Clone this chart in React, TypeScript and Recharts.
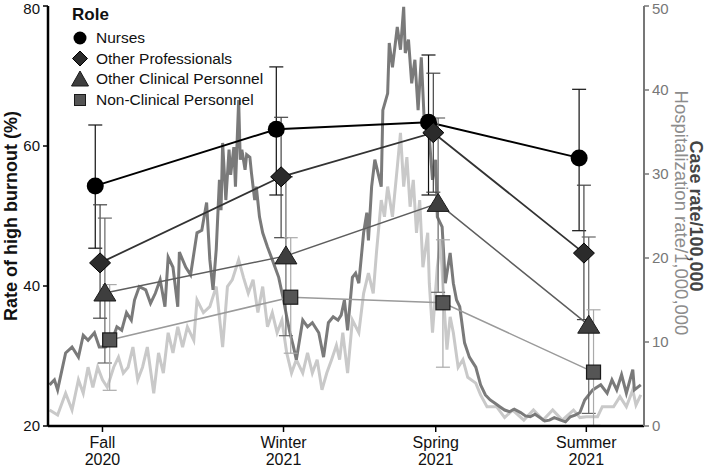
import React from "react";
import { ComposedChart, Line, XAxis, YAxis, ErrorBar } from "recharts";

// ---- background daily series (right axis) ----
const caseDays = [1, 4, 6, 11, 15, 19, 22, 25, 29, 32, 36, 40, 43, 46, 49, 52, 54, 57, 61, 64, 67, 70, 73, 75, 78, 81, 82, 86, 89, 93, 96, 99, 101, 103, 105, 107, 108, 109, 111, 113, 114, 116, 117, 119, 120, 121, 123, 124, 126, 127, 129, 130, 132, 134, 137, 140, 144, 147, 149, 151, 153, 155, 159, 162, 165, 169, 172, 175, 178, 181, 183, 185, 187, 190, 192, 194, 197, 199, 200, 202, 204, 206, 208, 209, 212, 213, 215, 218, 220, 222, 223, 225, 227, 229, 231, 233, 235, 237, 240, 242, 243, 246, 248, 251, 253, 255, 257, 260, 263, 267, 270, 273, 276, 279, 282, 285, 288, 291, 295, 298, 301, 304, 307, 310, 313, 316, 320, 323, 326, 329, 332, 335, 340, 345, 349, 352, 355, 358, 361, 365, 366, 370];
const caseRate = [4.9, 5.5, 4.3, 8.7, 9.4, 8.2, 10.8, 10.2, 11.1, 9.4, 9.4, 10.2, 11.8, 11.4, 13.5, 12.6, 15.0, 16.6, 16.2, 14.6, 15.8, 17.4, 14.2, 20.1, 18.9, 14.2, 20.7, 18.9, 18.0, 23.0, 23.3, 26.6, 19.8, 16.2, 21.0, 29.3, 25.7, 33.7, 26.9, 32.9, 29.9, 33.2, 28.5, 38.8, 31.7, 32.9, 30.5, 32.3, 32.0, 30.1, 26.9, 28.5, 24.9, 23.0, 21.3, 19.8, 17.7, 15.0, 13.0, 11.1, 9.6, 7.9, 12.6, 11.8, 12.3, 11.1, 8.2, 12.3, 13.0, 12.6, 13.2, 15.0, 11.4, 17.7, 18.2, 17.0, 23.0, 25.4, 22.1, 28.5, 31.7, 30.1, 28.5, 37.6, 39.6, 45.6, 42.7, 47.5, 44.8, 49.9, 44.4, 46.0, 40.8, 43.6, 37.6, 43.9, 35.6, 36.8, 29.3, 31.7, 24.9, 23.7, 17.0, 20.6, 17.0, 15.0, 14.2, 9.9, 8.2, 7.0, 4.9, 3.7, 3.1, 2.7, 2.3, 1.9, 1.7, 2.0, 1.6, 1.2, 1.1, 1.4, 1.0, 0.6, 0.7, 1.0, 0.7, 0.5, 1.1, 1.3, 1.6, 3.1, 4.3, 4.9, 3.9, 5.5, 4.3, 6.1, 3.9, 6.7, 4.3, 4.9];

const hospDays = [1, 6, 11, 15, 19, 22, 25, 28, 31, 34, 37, 41, 44, 47, 50, 53, 56, 59, 62, 66, 69, 72, 75, 78, 81, 84, 87, 91, 93, 97, 101, 105, 109, 112, 115, 119, 122, 125, 128, 131, 134, 137, 140, 143, 146, 149, 152, 155, 159, 162, 165, 168, 171, 174, 177, 180, 182, 184, 187, 190, 194, 197, 200, 203, 205, 208, 210, 212, 215, 218, 220, 222, 224, 226, 228, 230, 232, 234, 237, 238, 240, 243, 245, 247, 249, 251, 253, 256, 259, 262, 267, 270, 274, 280, 285, 290, 297, 303, 309, 315, 321, 328, 332, 336, 343, 346, 353, 357, 361, 365, 367, 370];
const hospRate = [1.9, 1.3, 3.9, 1.9, 5.5, 3.9, 7.0, 4.6, 7.0, 5.5, 4.6, 7.0, 8.2, 6.3, 7.0, 9.4, 5.5, 7.0, 9.4, 3.9, 8.7, 6.3, 11.1, 8.7, 11.8, 9.4, 11.8, 10.2, 15.0, 13.5, 14.2, 16.6, 9.4, 16.6, 17.4, 19.8, 17.7, 15.8, 17.4, 13.5, 16.6, 11.8, 13.5, 11.1, 12.6, 8.7, 6.3, 7.9, 6.3, 8.7, 6.3, 7.9, 4.3, 6.3, 7.9, 9.6, 7.9, 11.1, 6.3, 12.6, 11.1, 15.8, 18.2, 15.8, 20.6, 26.9, 24.9, 28.5, 24.9, 30.8, 34.9, 28.5, 32.0, 26.1, 29.3, 23.0, 26.9, 18.9, 23.0, 17.0, 11.1, 18.9, 22.1, 15.0, 9.1, 13.0, 11.1, 7.0, 7.9, 5.8, 5.1, 3.7, 2.3, 2.3, 1.0, 1.9, 0.7, 1.9, 0.7, 1.9, 0.7, 1.9, 1.0, 1.1, 1.1, 2.3, 2.3, 3.5, 2.3, 4.3, 2.5, 3.7];

// ---- survey waves ----
const seasonNames = ["Fall", "Winter", "Spring", "Summer"];
const seasonYears = ["2020", "2021", "2021", "2021"];
const seasonDays = [34, 147, 242, 336];

// ---- burnout by role (%) ----
const nurses = [54.3, 62.4, 63.4, 58.3];
const nursesLo = [45.4, 53.0, 53.0, 47.9];
const nursesHi = [63.0, 71.3, 73.0, 68.1];

const otherProf = [43.3, 55.6, 61.9, 44.7];
const otherProfLo = [35.4, 46.9, 53.4, 35.2];
const otherProfHi = [51.6, 64.1, 70.4, 54.4];

const otherClin = [39.0, 44.3, 51.8, 34.4];
const otherClinLo = [29.0, 32.9, 39.1, 21.8];
const otherClinHi = [49.7, 55.6, 64.0, 47.0];

const nonClin = [32.3, 38.4, 37.6, 27.7];
const nonClinLo = [25.1, 30.4, 28.4, 20.1];
const nonClinHi = [40.2, 46.9, 46.6, 36.6];

const roleNames = ["Nurses", "Other Professionals", "Other Clinical Personnel", "Non-Clinical Personnel"];
const dodge = [-4.5, -1.5, 1.5, 4.5];

const caseData = caseDays.map((d, i) => ({ day: d, v: caseRate[i] }));
const hospData = hospDays.map((d, i) => ({ day: d, v: hospRate[i] }));

const roleData = (vals: number[], lo: number[], hi: number[], k: number) =>
  vals.map((v, i) => ({ day: seasonDays[i] + dodge[k], v, err: [v - lo[i], hi[i] - v] }));

const FONT = "'Liberation Sans', Arial, Helvetica, sans-serif";

const Circle = (p: any) => <circle key={p.index} cx={p.cx} cy={p.cy} r={8.5} fill="#000" />;
const Diamond = (p: any) => (
  <polygon key={p.index} points={`${p.cx},${p.cy - 10} ${p.cx + 10.5},${p.cy} ${p.cx},${p.cy + 10} ${p.cx - 10.5},${p.cy}`} fill="#2b2b2b" stroke="#000" strokeWidth={1} />
);
const Triangle = (p: any) => (
  <polygon key={p.index} points={`${p.cx},${p.cy - 10} ${p.cx + 11},${p.cy + 8} ${p.cx - 11},${p.cy + 8}`} fill="#3e3e3e" stroke="#1a1a1a" strokeWidth={1} />
);
const Square = (p: any) => (
  <rect key={p.index} x={p.cx - 7} y={p.cy - 7} width={14} height={14} fill="#555" stroke="#1a1a1a" strokeWidth={1.2} />
);

const SeasonTick = (props: any) => {
  const { x, y, payload } = props;
  const i = seasonDays.indexOf(payload.value);
  return (
    <g>
      <text x={x} y={y + 14} textAnchor="middle" fontSize={16} fontFamily={FONT} fill="#111">{seasonNames[i]}</text>
      <text x={x} y={y + 31} textAnchor="middle" fontSize={16} fontFamily={FONT} fill="#111">{seasonYears[i]}</text>
    </g>
  );
};

export default function App() {
  return (
    <div style={{ position: "absolute", left: 0, top: 0, width: 708, height: 467, background: "#fff" }}>
      <ComposedChart width={708} height={467} margin={{ top: 6, right: 0, bottom: 0, left: 0 }}>
        <XAxis
          type="number"
          dataKey="day"
          domain={[0, 372]}
          ticks={seasonDays}
          allowDataOverflow
          tick={<SeasonTick />}
          tickSize={6}
          height={41}
          axisLine={{ stroke: "#000", strokeWidth: 2.5 }}
          tickLine={{ stroke: "#000", strokeWidth: 1.5 }}
        />
        <YAxis
          yAxisId="left"
          domain={[20, 80]}
          ticks={[20, 40, 60, 80]}
          allowDataOverflow
          width={48}
          tickSize={5}
          tickMargin={3}
          axisLine={{ stroke: "#000", strokeWidth: 2.5 }}
          tickLine={{ stroke: "#000", strokeWidth: 1.5 }}
          tick={{ fontSize: 15, fontFamily: FONT, fill: "#111" }}
        />
        <YAxis
          yAxisId="right"
          orientation="right"
          domain={[0, 50]}
          ticks={[0, 10, 20, 30, 40, 50]}
          allowDataOverflow
          width={64}
          tickSize={5}
          tickMargin={3}
          axisLine={{ stroke: "#777", strokeWidth: 2 }}
          tickLine={{ stroke: "#777", strokeWidth: 1.5 }}
          tick={{ fontSize: 15, fontFamily: FONT, fill: "#777" }}
        />
        <Line yAxisId="right" data={hospData} dataKey="v" type="linear" stroke="#c9c9c9" strokeWidth={3} dot={false} isAnimationActive={false} />
        <Line yAxisId="right" data={caseData} dataKey="v" type="linear" stroke="#7a7a7a" strokeWidth={3} dot={false} isAnimationActive={false} />

        <Line yAxisId="left" data={roleData(nurses, nursesLo, nursesHi, 0)} dataKey="v" type="linear" stroke="#000" strokeWidth={2} dot={Circle} isAnimationActive={false}>
          <ErrorBar dataKey="err" direction="y" width={7} stroke="#111" strokeWidth={1.2} />
        </Line>
        <Line yAxisId="left" data={roleData(otherProf, otherProfLo, otherProfHi, 1)} dataKey="v" type="linear" stroke="#333" strokeWidth={1.8} dot={Diamond} isAnimationActive={false}>
          <ErrorBar dataKey="err" direction="y" width={7} stroke="#444" strokeWidth={1.2} />
        </Line>
        <Line yAxisId="left" data={roleData(otherClin, otherClinLo, otherClinHi, 2)} dataKey="v" type="linear" stroke="#5e5e5e" strokeWidth={1.5} dot={Triangle} isAnimationActive={false}>
          <ErrorBar dataKey="err" direction="y" width={7} stroke="#666" strokeWidth={1.2} />
        </Line>
        <Line yAxisId="left" data={roleData(nonClin, nonClinLo, nonClinHi, 3)} dataKey="v" type="linear" stroke="#9a9a9a" strokeWidth={1.5} dot={Square} isAnimationActive={false}>
          <ErrorBar dataKey="err" direction="y" width={7} stroke="#aaa" strokeWidth={1.2} />
        </Line>
      </ComposedChart>

      <svg width={708} height={467} style={{ position: "absolute", left: 0, top: 0, pointerEvents: "none" }}>
        <text transform="translate(17,216) rotate(-90)" textAnchor="middle" fontSize={18} fontWeight="bold" fontFamily={FONT} fill="#111">
          Rate of high burnout (%)
        </text>
        <text transform="translate(675,213) rotate(90)" textAnchor="middle" fontSize={18.5} fontFamily={FONT} fill="#8c8c8c">
          Hospitalization rate/1,000,000
        </text>
        <text transform="translate(690,216) rotate(90)" textAnchor="middle" fontSize={18} fontWeight="bold" fontFamily={FONT} fill="#444">
          Case rate/100,000
        </text>

        <text x={72} y={20} fontSize={17} fontWeight="bold" fontFamily={FONT} fill="#111">Role</text>
        <circle cx={80} cy={38} r={6.5} fill="#000" />
        <polygon points="80,51 87.5,58.5 80,66 72.5,58.5" fill="#2b2b2b" stroke="#000" strokeWidth={1} />
        <polygon points="80,71 88.5,86 71.5,86" fill="#3e3e3e" stroke="#1a1a1a" strokeWidth={1} />
        <rect x={74.5} y={94.5} width={11} height={11} fill="#555" stroke="#1a1a1a" strokeWidth={1} />
        {roleNames.map((n, i) => (
          <text key={n} x={96} y={43 + i * 20.5} fontSize={15.5} fontFamily={FONT} fill="#111">{n}</text>
        ))}
      </svg>
    </div>
  );
}
